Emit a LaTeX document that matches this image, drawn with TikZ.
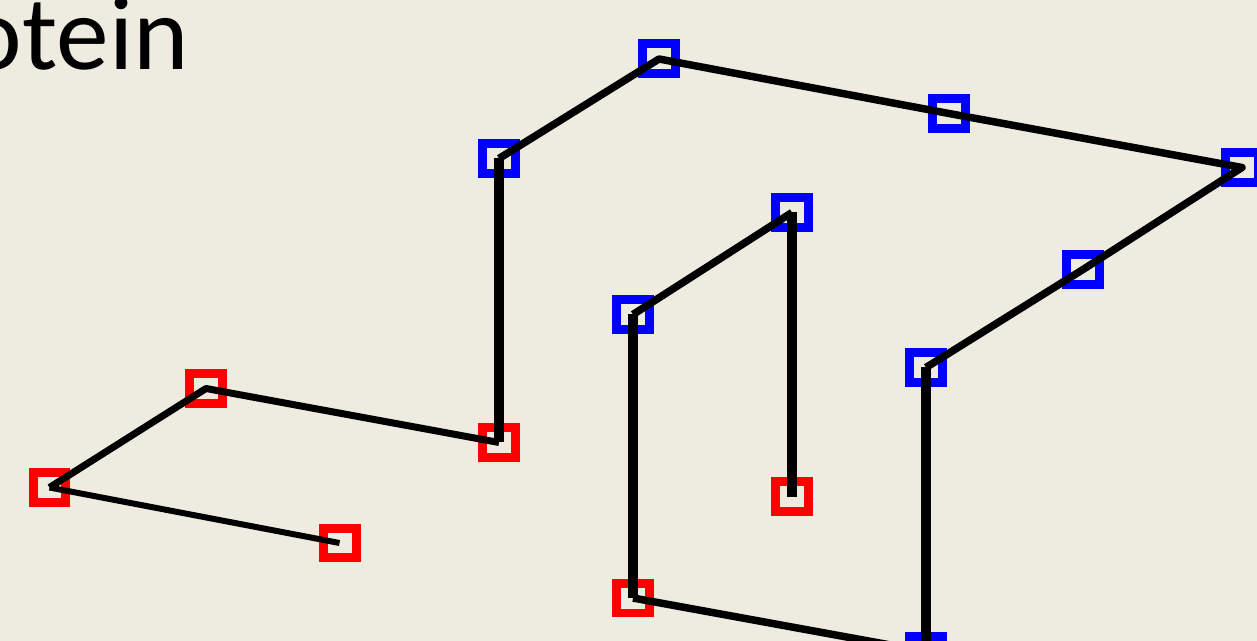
\documentclass[tikz,border=0pt]{standalone}
\usepackage{fontspec}
\setmainfont{Carlito}
\usepackage{xcolor}
\definecolor{paper}{HTML}{EEECE1}
\definecolor{hpolar}{HTML}{0000FF}
\definecolor{phob}{HTML}{FF0000}
\tikzset{
  site/.style={draw, fill=none, line width=0.18cm, minimum width=0.66cm, minimum height=0.6cm, inner sep=0pt},
  redsite/.style={site, draw=phob},
  bluesite/.style={site, draw=hpolar},
  slant/.style={draw=black, line width=0.15cm, line join=round},
  upright/.style={draw=black, line width=0.2cm, line join=round},
  title/.style={text=black, font=\fontsize{60}{72}\selectfont, anchor=base east, inner sep=0pt}
}
\begin{document}
\begin{tikzpicture}[x=0.02cm, y=-0.02cm]
\fill[paper] (0,0) rectangle (1257,641);
\useasboundingbox (0,0) rectangle (1257,641);
\node[title] (head) at (189,70) {otein};

% red sites
\node[redsite] (r1) at (339.5,543) {};
\node[redsite] (r2) at (49.5,487.5) {};
\node[redsite] (r3) at (206,388.5) {};
\node[redsite] (r4) at (499,442.5) {};
\node[redsite] (r5) at (633,598) {};
\node[redsite] (r6) at (792,496.5) {};

% blue sites
\node[bluesite] (b1) at (499,158.5) {};
\node[bluesite] (b2) at (659,59) {};
\node[bluesite] (b3) at (949,113.5) {};
\node[bluesite] (b4) at (1242,167.5) {};
\node[bluesite] (b5) at (1083,269.5) {};
\node[bluesite] (b6) at (926,367.5) {};
\node[bluesite] (b7) at (926,651.5) {};
\node[bluesite] (b8) at (633,314.5) {};
\node[bluesite] (b9) at (792,212.5) {};

% chain
\draw[slant, line width=0.12cm] (r1.center)--(r2.center);
\draw[slant, line width=0.14cm] (r2.center)--(r3.center)--(r4.center);
\draw[upright] (r4.center)--(b1.center);
\draw[slant] (b1.center)--(b2.center)--(b3.center)--(b4.center)--(b5.center)--(b6.center);
\draw[upright] (b6.center)--(b7.center);
\draw[slant] (b7.center)--(r5.center);
\draw[upright] (r5.center)--(b8.center);
\draw[slant] (b8.center)--(b9.center);
\draw[upright] (b9.center)--(r6.center);
\end{tikzpicture}
\end{document}
